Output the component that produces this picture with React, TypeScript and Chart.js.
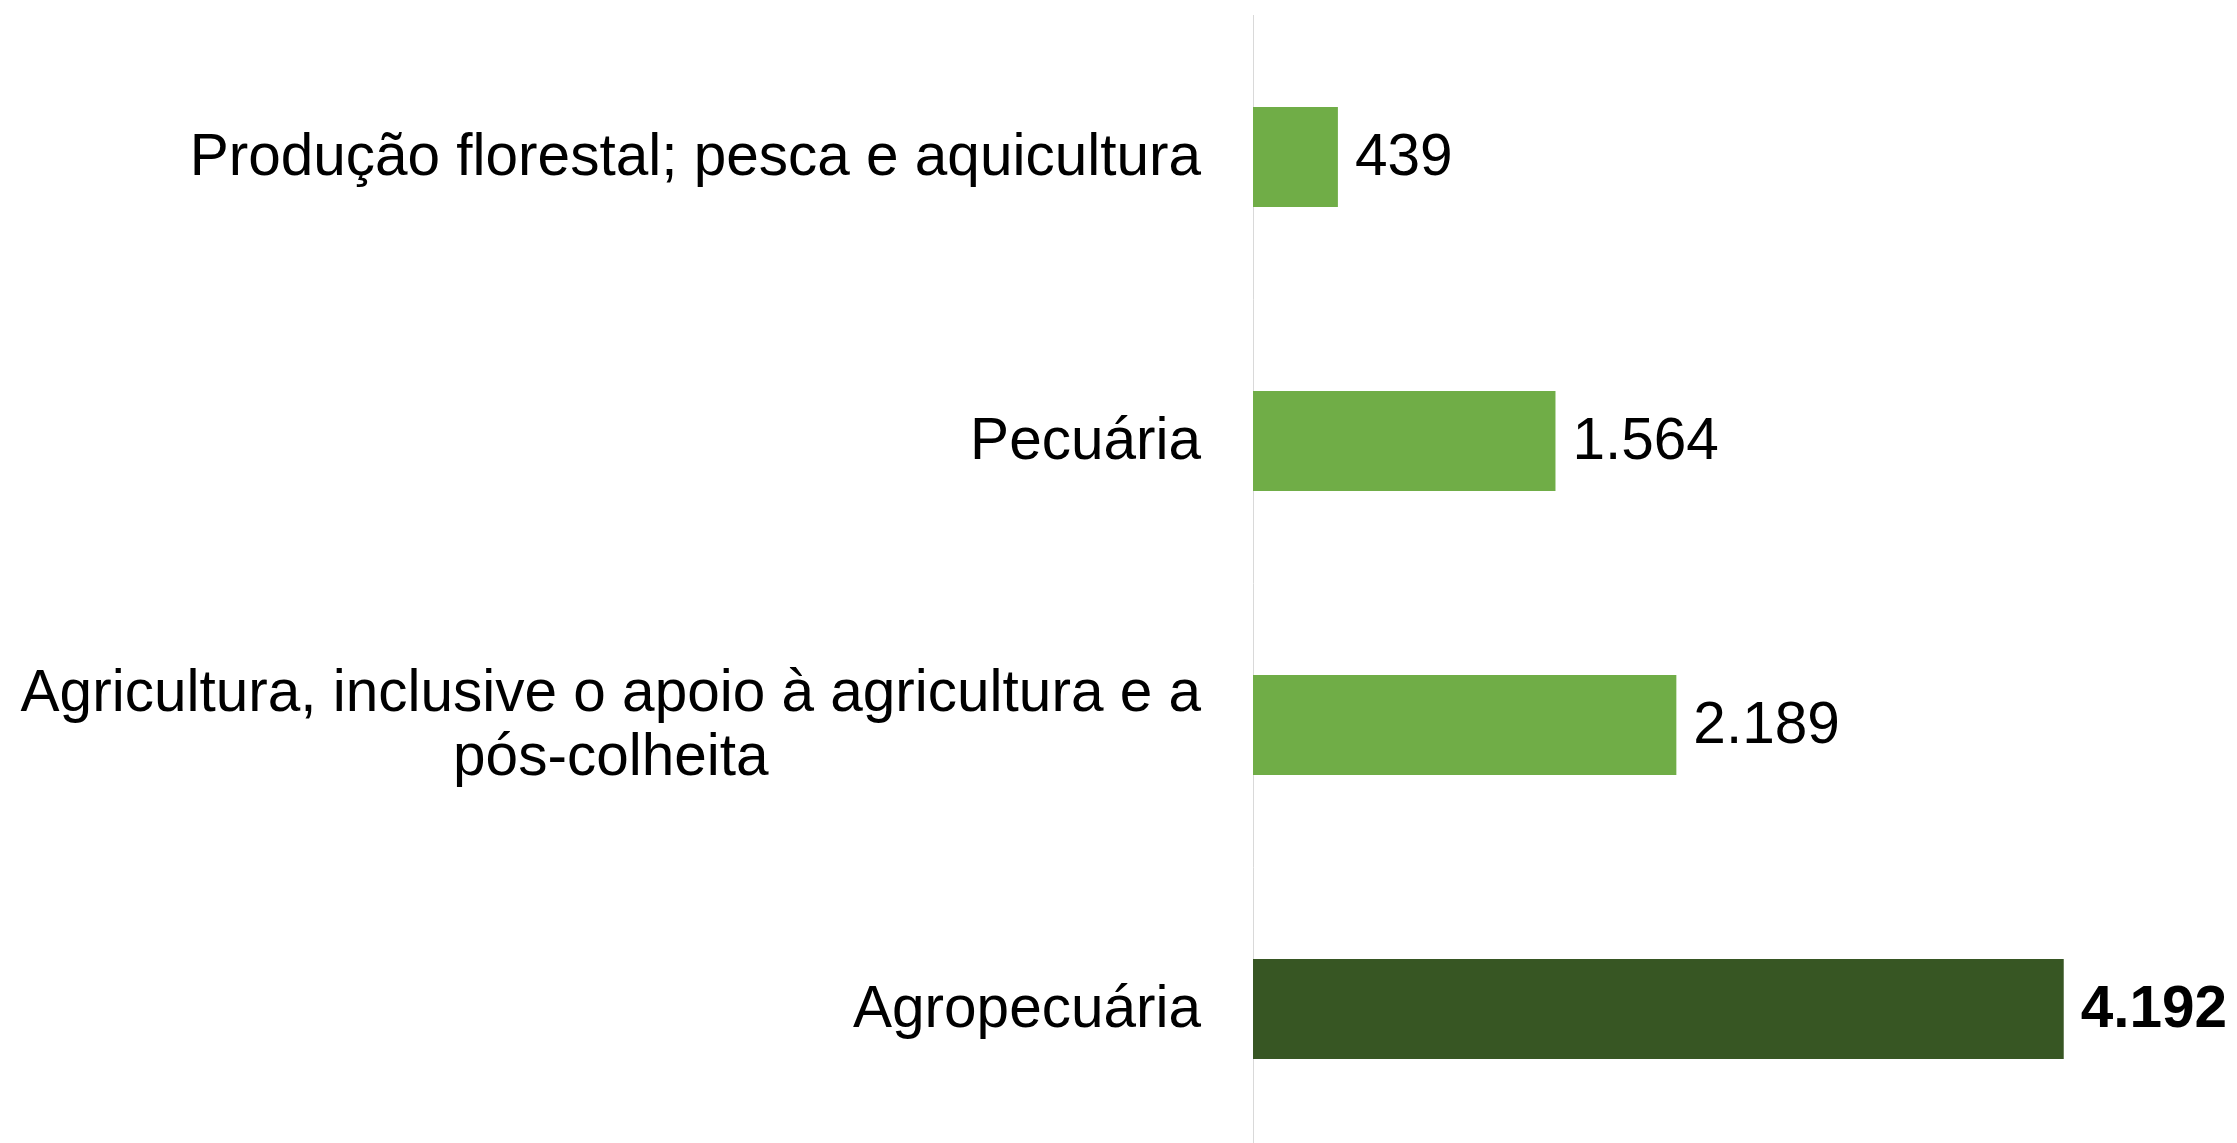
import React, { useEffect, useRef } from "react";
import { Chart, registerables } from "chart.js";

Chart.register(...registerables);

const categories: string[][] = [
  ["Produção florestal; pesca e aquicultura"],
  ["Pecuária"],
  ["Agricultura, inclusive o apoio à agricultura e a", "pós-colheita"],
  ["Agropecuária"],
];
const values: number[] = [439, 1564, 2189, 4192];
const barColors: string[] = ["#70AD47", "#70AD47", "#70AD47", "#375623"];
const boldFlags: boolean[] = [false, false, false, true];

const FONT_FAMILY = '"Liberation Sans", Arial, sans-serif';
const FONT_SIZE = 58.5;
const LINE_HEIGHT = 64;

function fmt(v: number): string {
  const s = Math.round(v).toString();
  return s.replace(/\B(?=(\d{3})+(?!\d))/g, ".");
}

const valueLabels = {
  id: "valueLabels",
  afterDatasetsDraw(chart: any) {
    const ctx = chart.ctx;
    const meta = chart.getDatasetMeta(0);
    ctx.save();
    meta.data.forEach((bar: any, i: number) => {
      ctx.font = `${boldFlags[i] ? "bold " : ""}${FONT_SIZE}px ${FONT_FAMILY}`;
      ctx.fillStyle = "#000000";
      ctx.textAlign = "left";
      ctx.textBaseline = "middle";
      ctx.fillText(fmt(values[i]), bar.x + 17, bar.y + 2);
    });
    ctx.restore();
  },
};

const categoryLabels = {
  id: "categoryLabels",
  afterDraw(chart: any) {
    const ctx = chart.ctx;
    const yScale = chart.scales.y;
    const rightEdge = yScale.right - 52;
    ctx.save();
    ctx.font = `${FONT_SIZE}px ${FONT_FAMILY}`;
    ctx.fillStyle = "#000000";
    ctx.textBaseline = "middle";
    ctx.textAlign = "center";
    categories.forEach((lines, i) => {
      const cy = yScale.getPixelForTick(i) + 2;
      const widest = Math.max(...lines.map((l) => ctx.measureText(l).width));
      const cx = rightEdge - widest / 2;
      const startY = cy - ((lines.length - 1) * LINE_HEIGHT) / 2;
      lines.forEach((line, j) => {
        ctx.fillText(line, cx, startY + j * LINE_HEIGHT);
      });
    });
    ctx.restore();
  },
};

export default function App() {
  const ref = useRef<HTMLCanvasElement | null>(null);
  useEffect(() => {
    document.body.style.margin = "0";
    document.body.style.overflow = "hidden";
    if (!ref.current) return;
    const chart = new Chart(ref.current, {
      type: "bar",
      data: {
        labels: categories.map((l) => l.join(" ")),
        datasets: [
          {
            data: values,
            backgroundColor: barColors,
            borderWidth: 0,
            categoryPercentage: 1,
            barPercentage: 0.352,
          },
        ],
      },
      options: {
        indexAxis: "y",
        animation: false,
        responsive: false,
        maintainAspectRatio: false,
        layout: { padding: { top: 15, right: 17, bottom: 0, left: 0 } },
        plugins: {
          legend: { display: false },
          tooltip: { enabled: false },
          title: { display: false },
        },
        scales: {
          x: {
            display: false,
            min: 0,
            max: 5000,
          },
          y: {
            grid: { display: false, drawTicks: false },
            border: { display: true, color: "#d9d9d9", width: 1 },
            ticks: { display: false, padding: 0 },
            afterFit(scale: any) {
              scale.width = 1253;
              scale.paddingTop = 0;
              scale.paddingBottom = 0;
            },
          },
        },
      },
      plugins: [valueLabels, categoryLabels],
    });
    return () => chart.destroy();
  }, []);
  return (
    <div style={{ width: 2237, height: 1143, overflow: "hidden", background: "#ffffff" }}>
      <canvas ref={ref} width={2237} height={1151} style={{ display: "block" }} />
    </div>
  );
}
